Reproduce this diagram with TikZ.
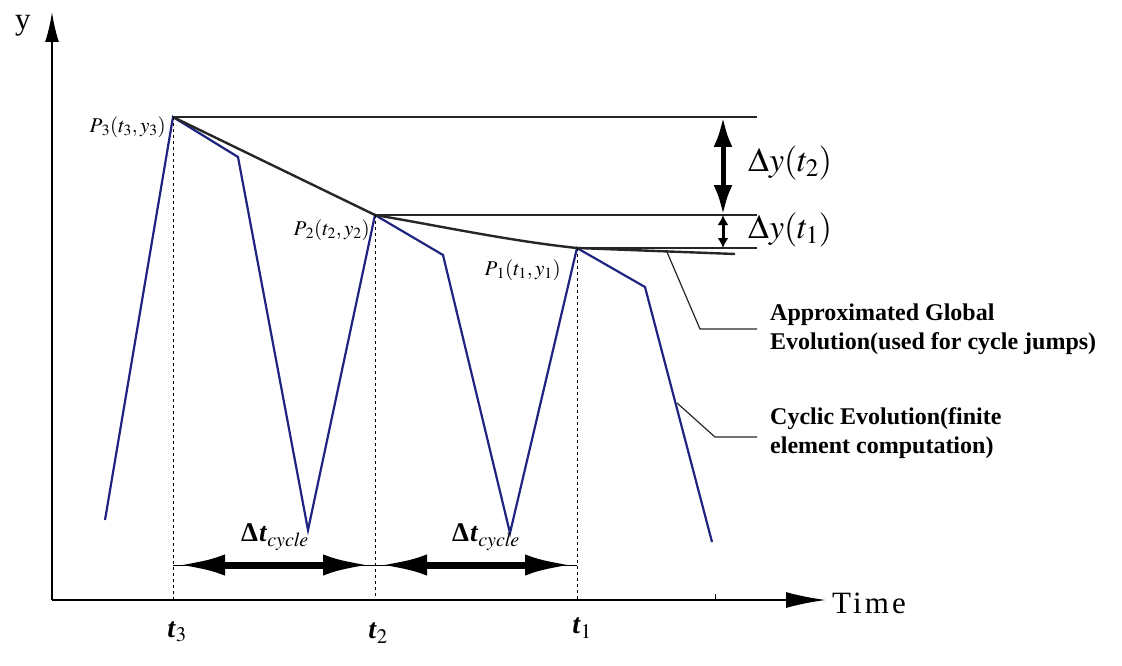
\documentclass[tikz,border=0pt]{standalone}
\usepackage{mathptmx}
\usepackage{fontspec}
\setmainfont{Liberation Serif}
\usetikzlibrary{arrows.meta}
\definecolor{cycblue}{RGB}{30,36,128}
\newcommand{\bt}{\textbf{\textit{t}}}
\newcommand{\dcyc}{\textbf{Δ}\kern1pt${\bt}_{\mathit{cycle}}$}
\newcommand{\ptlab}[1]{$P_{\kern2pt#1}(t_#1,y_#1)$}

\begin{document}
\begin{tikzpicture}[
        x=1pt,y=-1pt,
        every node/.append style={inner sep=1pt}
    ]
    \tikzstyle{cyc}=[draw=cycblue,line width=2.2pt,line join=miter];
    \tikzstyle{glob}=[draw=black!85,line width=2.4pt];
    \tikzstyle{lvl}=[draw=black!85,line width=2pt];
    \tikzstyle{lead}=[draw=black!85,line width=1.2pt];
    \tikzstyle{drop}=[draw=black,dashed,line width=1pt];
    \tikzstyle{bigarr}=[line width=5pt,{Latex[length=30pt,width=19pt]}-{Latex[length=30pt,width=19pt]}];
    \tikzstyle{cycarr}=[line width=7pt,{Latex[length=48pt,width=21pt]}-{Latex[length=48pt,width=21pt]}];
    \tikzstyle{note}=[anchor=west,align=left,font=\fontsize{24}{29}\selectfont\bfseries];
    \tikzstyle{axlab}=[font=\fontsize{31}{31}\selectfont\addfontfeature{LetterSpace=10}];
    \tikzstyle{plab}=[anchor=east,font=\fontsize{21}{21}\selectfont];
    \useasboundingbox (0,0) rectangle (1122,666);
    % axes
    \coordinate (o) at (52,600);
    \coordinate (ytop) at (52,12);
    \coordinate (xend) at (826,600);
    \draw[line width=2pt,-{Latex[length=30pt,width=14pt]}] (o) -- (ytop);
    \draw[line width=2pt,-{Latex[length=40pt,width=16pt]}] (o) -- (xend);
    \node[axlab] (ylab) at (23,26) {y};
    \node[axlab,anchor=west] (tlab) at (831,603) {Time};
    \coordinate (tick) at (715,600);
    \draw[line width=0.5pt] (tick) -- +(0,-6);
    % cyclic evolution
    \coordinate (a0) at (105,520);
    \coordinate (p3) at (173,117);
    \coordinate (a1) at (238,157);
    \coordinate (a2) at (308,530);
    \coordinate (p2) at (375,215);
    \coordinate (a3) at (443,255);
    \coordinate (a4) at (510,533);
    \coordinate (p1) at (577,248);
    \coordinate (a5) at (645,287);
    \coordinate (a6) at (712,542);
    \draw[cyc] (a0) -- (p3) -- (a1) -- (a2) -- (p2) -- (a3) -- (a4) -- (p1) -- (a5) -- (a6);
    % global evolution
    \coordinate (gend) at (735,254);
    \draw[glob] (p3) -- (p2) .. controls (440,226) and (510,241) .. (p1) -- (gend);
    % levels
    \coordinate (r3) at (757,117);
    \coordinate (r2) at (757,215);
    \coordinate (r1) at (757,248);
    \draw[lvl] (p3) -- (r3) (p2) -- (r2) (p1) -- (r1);
    \coordinate (d3) at (723,117);
    \coordinate (d2) at (723,215);
    \coordinate (d1) at (723,248);
    \draw[bigarr] (d3) -- (d2);
    \draw[line width=3pt,{Latex[length=10pt,width=11pt]}-{Latex[length=10pt,width=11pt]}] (d2) -- (d1);
    \node[anchor=west] (dy2) at (747,163) {\fontsize{34}{34}\selectfont $\Delta y(t_2)$};
    \node[anchor=west] (dy1) at (747,230) {\fontsize{34}{34}\selectfont $\Delta y(t_1)$};
    % point labels
    \node[plab] (lp3) at (167,127) {\ptlab{3}};
    \node[plab] (lp2) at (371,230) {\ptlab{2}};
    \node[plab] (lp1) at (562,270) {\ptlab{1}};
    % drops
    \coordinate (b3) at (173,600);
    \coordinate (b2) at (375,600);
    \coordinate (b1) at (577,600);
    \draw[drop] (p3) -- (b3) (p2) -- (b2) (p1) -- (b1);
    \node (lt3) at (177,632) {\fontsize{28}{28}\selectfont ${\bt}_3$};
    \node (lt2) at (378,633) {\fontsize{28}{28}\selectfont ${\bt}_2$};
    \node (lt1) at (582,628) {\fontsize{28}{28}\selectfont ${\bt}_1$};
    % cycle arrows
    \coordinate (c3) at (173,565);
    \coordinate (c2) at (375,565);
    \coordinate (c1) at (577,565);
    \draw[line width=0.6pt] (c3) -- (c1);
    \draw[cycarr,shorten <=4pt,shorten >=4pt] (c3) -- (c2);
    \draw[cycarr,shorten <=4pt,shorten >=4pt] (c2) -- (c1);
    \node (dt1) at (275,537) {\fontsize{27}{27}\selectfont \dcyc};
    \node (dt2) at (486,537) {\fontsize{27}{27}\selectfont \dcyc};
    % leaders
    \coordinate (g0) at (667,252);
    \coordinate (g1) at (700,329);
    \coordinate (g2) at (757,329);
    \draw[lead] (g0) -- (g1) -- (g2);
    \node[note] (gtxt) at (769,329) {Approximated Global\\Evolution(used for cycle jumps)};
    \coordinate (k0) at (677,403);
    \coordinate (k1) at (715,437);
    \coordinate (k2) at (757,437);
    \draw[lead] (k0) -- (k1) -- (k2);
    \node[note] (ktxt) at (769,433) {Cyclic Evolution(finite\\element computation)};
\end{tikzpicture}
\end{document}
